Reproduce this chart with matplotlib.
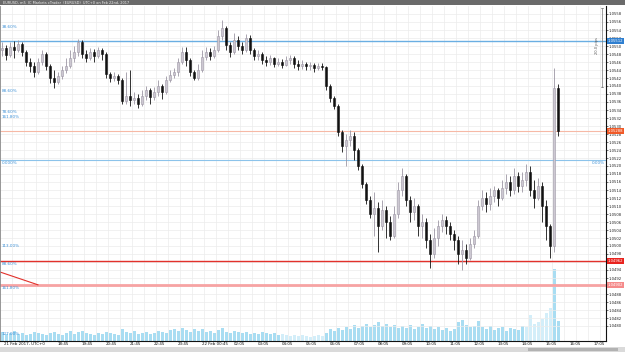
import numpy as np
import matplotlib
matplotlib.use("Agg")
import matplotlib.pyplot as plt
import matplotlib.transforms as mtrans
from matplotlib.patches import Rectangle

# ---------------- data (EURUSD, 10-minute bars) ----------------
first_open = 1.05490
closes = [1.05495, 1.05478, 1.05498, 1.05490, 1.05505, 1.05485, 1.05460, 1.05450, 1.05435, 1.05460,
          1.05480, 1.05450, 1.05420, 1.05410, 1.05425, 1.05440, 1.05450, 1.05470, 1.05485, 1.05510,
          1.05480, 1.05470, 1.05485, 1.05475, 1.05490, 1.05480, 1.05430, 1.05420, 1.05425, 1.05415,
          1.05362, 1.05375, 1.05365, 1.05370, 1.05355, 1.05375, 1.05390, 1.05372, 1.05385, 1.05400,
          1.05385, 1.05415, 1.05428, 1.05435, 1.05460, 1.05485, 1.05465, 1.05435, 1.05420, 1.05440,
          1.05472, 1.05485, 1.05475, 1.05490, 1.05525, 1.05545, 1.05502, 1.05485, 1.05515, 1.05500,
          1.05490, 1.05520, 1.05490, 1.05475, 1.05480, 1.05465, 1.05460, 1.05470, 1.05455, 1.05460,
          1.05452, 1.05465, 1.05470, 1.05455, 1.05450, 1.05455, 1.05450, 1.05452, 1.05445, 1.05450,
          1.05448, 1.05400, 1.05370, 1.05350, 1.05285, 1.05250, 1.05265, 1.05275, 1.05240, 1.05200,
          1.05155, 1.05115, 1.05080, 1.05095, 1.05050, 1.05090, 1.05060, 1.05025, 1.05080, 1.05140,
          1.05175, 1.05115, 1.05085, 1.05100, 1.05050, 1.05060, 1.05015, 1.04980, 1.05020, 1.05050,
          1.05065, 1.05050, 1.05030, 1.05015, 1.04980, 1.04990, 1.04970, 1.05005, 1.05025, 1.05100,
          1.05120, 1.05105, 1.05125, 1.05140, 1.05120, 1.05145, 1.05160, 1.05140, 1.05175, 1.05150,
          1.05165, 1.05185, 1.05140, 1.05120, 1.05150, 1.05100, 1.05050, 1.05000, 1.05395, 1.05288]
highs = [1.05510, 1.05502, 1.05510, 1.05512, 1.05515, 1.05510, 1.05490, 1.05470, 1.05460, 1.05470,
         1.05490, 1.05485, 1.05455, 1.05440, 1.05435, 1.05450, 1.05470, 1.05490, 1.05500, 1.05518,
         1.05515, 1.05490, 1.05495, 1.05492, 1.05498, 1.05495, 1.05485, 1.05435, 1.05435, 1.05430,
         1.05420, 1.05435, 1.05440, 1.05385, 1.05380, 1.05390, 1.05400, 1.05395, 1.05398, 1.05415,
         1.05405, 1.05425, 1.05440, 1.05445, 1.05470, 1.05498, 1.05498, 1.05470, 1.05440, 1.05455,
         1.05490, 1.05498, 1.05495, 1.05500, 1.05540, 1.05565, 1.05550, 1.05510, 1.05532, 1.05525,
         1.05510, 1.05530, 1.05528, 1.05495, 1.05490, 1.05485, 1.05475, 1.05478, 1.05472, 1.05470,
         1.05468, 1.05475, 1.05478, 1.05475, 1.05465, 1.05465, 1.05460, 1.05460, 1.05458, 1.05458,
         1.05458, 1.05450, 1.05405, 1.05375, 1.05355, 1.05290, 1.05280, 1.05290, 1.05285, 1.05245,
         1.05205, 1.05160, 1.05125, 1.05135, 1.05110, 1.05115, 1.05100, 1.05075, 1.05100, 1.05160,
         1.05195, 1.05180, 1.05125, 1.05120, 1.05105, 1.05080, 1.05070, 1.05030, 1.05045, 1.05065,
         1.05080, 1.05075, 1.05060, 1.05040, 1.05025, 1.05015, 1.05005, 1.05020, 1.05040, 1.05115,
         1.05140, 1.05135, 1.05145, 1.05150, 1.05145, 1.05165, 1.05180, 1.05175, 1.05195, 1.05185,
         1.05185, 1.05205, 1.05200, 1.05165, 1.05170, 1.05160, 1.05115, 1.05055, 1.05445, 1.05405]
lows = [1.05475, 1.05465, 1.05472, 1.05470, 1.05485, 1.05475, 1.05450, 1.05435, 1.05422, 1.05430,
        1.05452, 1.05440, 1.05408, 1.05395, 1.05405, 1.05418, 1.05432, 1.05445, 1.05460, 1.05475,
        1.05470, 1.05460, 1.05465, 1.05460, 1.05470, 1.05465, 1.05420, 1.05410, 1.05412, 1.05405,
        1.05355, 1.05355, 1.05350, 1.05355, 1.05345, 1.05350, 1.05365, 1.05355, 1.05365, 1.05375,
        1.05368, 1.05380, 1.05410, 1.05420, 1.05425, 1.05455, 1.05450, 1.05425, 1.05415, 1.05415,
        1.05435, 1.05465, 1.05465, 1.05470, 1.05485, 1.05515, 1.05490, 1.05472, 1.05480, 1.05490,
        1.05480, 1.05485, 1.05480, 1.05465, 1.05465, 1.05455, 1.05450, 1.05452, 1.05448, 1.05450,
        1.05445, 1.05450, 1.05455, 1.05445, 1.05440, 1.05442, 1.05440, 1.05440, 1.05435, 1.05440,
        1.05440, 1.05390, 1.05360, 1.05342, 1.05275, 1.05235, 1.05200, 1.05250, 1.05215, 1.05190,
        1.05145, 1.05105, 1.05070, 1.05025, 1.04985, 1.05040, 1.05020, 1.05015, 1.05020, 1.05070,
        1.05125, 1.05100, 1.05060, 1.05065, 1.05025, 1.05020, 1.04995, 1.04945, 1.04970, 1.05000,
        1.05035, 1.05030, 1.05015, 1.04990, 1.04955, 1.04940, 1.04955, 1.04965, 1.04995, 1.05020,
        1.05090, 1.05085, 1.05090, 1.05110, 1.05100, 1.05115, 1.05130, 1.05125, 1.05130, 1.05135,
        1.05135, 1.05150, 1.05125, 1.05095, 1.05115, 1.05060, 1.05015, 1.04970, 1.04985, 1.05275]
volumes = [9, 7, 8, 10, 7, 8, 6, 7, 9, 8,
           7, 6, 8, 9, 7, 6, 8, 10, 7, 9,
           10, 8, 7, 6, 8, 7, 9, 8, 7, 6,
           12, 9, 8, 10, 7, 8, 9, 7, 8, 10,
           9, 8, 11, 12, 10, 13, 11, 9, 12, 10,
           12, 9, 10, 8, 11, 13, 9, 8, 10, 9,
           8, 9, 7, 8, 7, 9, 8, 7, 8, 6,
           7, 6, 5, 6, 5, 6, 5, 4, 5, 6,
           5, 8, 12, 10, 13, 11, 14, 12, 16, 13,
           15, 17, 14, 16, 19, 15, 17, 14, 16, 13,
           15, 13, 16, 12, 14, 17, 13, 15, 12, 14,
           11, 13, 10, 12, 19, 21, 16, 14, 15, 20,
           14, 12, 15, 11, 13, 14, 10, 13, 12, 11,
           15, 14, 26, 17, 19, 22, 28, 33, 72, 20]
bar_start_hour = 16.5          # 21 Feb 16:30
bar_step_hours = 10 / 60       # 10-minute bars

xtick_hours = [16.5, 18.75, 19.75, 20.75, 21.75, 22.75, 23.75, 24.75, 26.0833, 27.0833, 28.0833,
               29.0833, 30.0833, 31.0833, 32.0833, 33.0833, 34.0833, 35.0833, 36.0833, 37.0833,
               38.0833, 39.0833, 40.0833, 41.0833]
xtick_labels = ["21 Feb 2017, UTC+0", "18:45", "19:45", "20:45", "21:45", "22:45", "23:45",
                "22 Feb 00:45", "02:05", "03:05", "04:05", "05:05", "06:05", "07:05", "08:05",
                "09:05", "10:05", "11:05", "12:05", "13:05", "14:05", "15:05", "16:05", "17:05"]

level_prices = [1.05512, 1.05288, 1.05215, 1.04962, 1.04902]
level_colors = ["#6aaee2", "#f6b9a6", "#8cc3ea", "#e2312b", "#f7a3a3"]
level_widths = [1.0, 0.8, 0.8, 1.0, 2.0]
box_prices = [1.05512, 1.05288, 1.04962, 1.04902]
box_colors = ["#2f7fd0", "#f05a28", "#e8231e", "#f58a8a"]

fib_texts = ["38.60%", "88.60%", "78.60%", "161.80%", "0.000%", "113.00%", "88.60%", "161.80%", "127.00%"]
fib_prices = [1.05548, 1.05388, 1.05336, 1.05323, 1.05208, 1.05000, 1.04955, 1.04895, 1.04780]

trend_hours = [16.4, 17.98]
trend_prices = [1.04935, 1.04903]

# ---------------- figure ----------------
W, H = 625, 352
fig = plt.figure(figsize=(W / 100, H / 100), dpi=100, facecolor="white")
ax_left, ax_right, ax_top, ax_bot = 0, 606, 6, 341
axv = fig.add_axes([ax_left / W, (H - ax_bot) / H, (ax_right - ax_left) / W, (ax_bot - ax_top) / H])
ax = fig.add_axes(axv.get_position(), sharex=axv)
axv.set_zorder(1)
ax.set_zorder(2)
ax.patch.set_visible(False)

n = len(closes)
times = bar_start_hour + np.arange(n) * bar_step_hours
c = np.array(closes)
o = np.array([first_open] + closes[:-1])
hi = np.maximum(np.array(highs), np.maximum(o, c))
lo = np.minimum(np.array(lows), np.minimum(o, c))
up = c >= o

xmin = 16.4
xmax = xmin + (ax_right - ax_left) / 24.0
ymin, ymax = 1.047625, 1.05600

# volume
vol_colors = ["#d3eef9" if (70 <= i <= 80 or 131 <= i <= 137) else "#a9ddf2" for i in range(n)]
axv.bar(times, volumes, width=0.1, color=vol_colors, linewidth=0)
axv.set_ylim(0, 333)
axv.set_xlim(xmin, xmax)
axv.axis("off")
axv.patch.set_visible(True)
axv.patch.set_facecolor("white")

# grid
for k in range(0, 52):
    ax.axvline(xmin + 0.5 * k, color="#ececec", lw=0.5, zorder=0)
price_ticks = np.round(np.arange(1.0480, 1.05581, 0.0002), 4)
for p in price_ticks:
    ax.axhline(p, color="#ececec", lw=0.5, zorder=0)

# candles
wick_colors = np.where(up, "#9c96a4", "#111111")
ax.vlines(times, lo, hi, colors=wick_colors, lw=0.6, zorder=3)
body_bottom = np.minimum(o, c)
body_h = np.maximum(np.abs(c - o), 0.00002)
ax.bar(times, body_h, bottom=body_bottom, width=0.09,
       color=np.where(up, "#cdc8d2", "#111111"),
       edgecolor=np.where(up, "#9c96a4", "#111111"), linewidth=0.4, zorder=4)

# horizontal levels
for p, col, lw in zip(level_prices, level_colors, level_widths):
    ax.axhline(p, color=col, lw=lw, zorder=2)
ax.plot(trend_hours, trend_prices, color="#e2312b", lw=0.8, zorder=2)

# fib labels
for t, p in zip(fib_texts, fib_prices):
    ax.text(xmin + 0.08, p, t, fontsize=3, color="#3b8fd6", va="center", ha="left", zorder=5)
ax.text(xmax - 0.05, 1.05208, "0.00%", fontsize=3, color="#3b8fd6", va="center", ha="right", zorder=5)

# measurement bracket
mx = xmin + 602 / 24
ax.plot([mx, mx], [1.05398, 1.05595], color="#777777", lw=0.5, zorder=5)
ax.plot([mx - 0.06, mx + 0.06], [1.05595, 1.05595], color="#777777", lw=0.5, zorder=5)
ax.plot([mx - 0.06, mx + 0.06], [1.05398, 1.05398], color="#777777", lw=0.5, zorder=5)
ax.text(mx - 0.2, 1.05500, "20.0 pips", fontsize=2.6, rotation=90, color="#555555",
        va="center", ha="center", zorder=5)

ax.set_xlim(xmin, xmax)
ax.set_ylim(ymin, ymax)

# right price axis
ax.yaxis.tick_right()
ax.set_yticks(price_ticks)
ax.set_yticklabels([f"{p:.4f}" for p in price_ticks], fontsize=2.7, color="#222222")
ax.tick_params(axis="y", length=1.2, width=0.4, pad=0.8)
ax.set_xticks([])
for s in ["top"]:
    ax.spines[s].set_visible(False)
ax.spines["left"].set_color("#888888")
ax.spines["left"].set_linewidth(0.6)
ax.spines["right"].set_color("#111111")
ax.spines["right"].set_linewidth(0.8)
ax.spines["bottom"].set_color("#111111")
ax.spines["bottom"].set_linewidth(0.8)

# x labels
xt = mtrans.blended_transform_factory(ax.transData, ax.transAxes)
for h, lab in zip(xtick_hours, xtick_labels):
    ax.text(h + 0.05, -0.004, lab, transform=xt, fontsize=2.9, color="#111111",
            ha="left", va="top", clip_on=False)

# price boxes on right axis
yt = mtrans.blended_transform_factory(ax.transAxes, ax.transData)
for p, col in zip(box_prices, box_colors):
    ax.text(1.003, p, f"{p:.5f}", transform=yt, fontsize=2.7, color="white", ha="left",
            va="center", clip_on=False, zorder=10,
            bbox=dict(boxstyle="square,pad=0.3", fc=col, ec="none"))

# title band
fig.patches.append(Rectangle((0, (H - 5) / H), 1, 5 / H, transform=fig.transFigure,
                             fc="#6a6a6a", ec="none", zorder=0))
fig.text(3 / W, (H - 2.6) / H, "EURUSD, m5  IC Markets cTrader  (EURUSD)  UTC+0 on Feb 22nd, 2017",
         fontsize=2.5, color="#f0f0f0", va="center", ha="left")

# scrollbar
fig.patches.append(Rectangle((0, 0), 1, 5 / H, transform=fig.transFigure,
                             fc="#dadada", ec="none", zorder=0))
fig.patches.append(Rectangle((528 / W, 1.5 / H), 90 / W, 2.5 / H, transform=fig.transFigure,
                             fc="#b2b2b2", ec="none", zorder=1))

fig.savefig("out.png", dpi=100, facecolor="white")
